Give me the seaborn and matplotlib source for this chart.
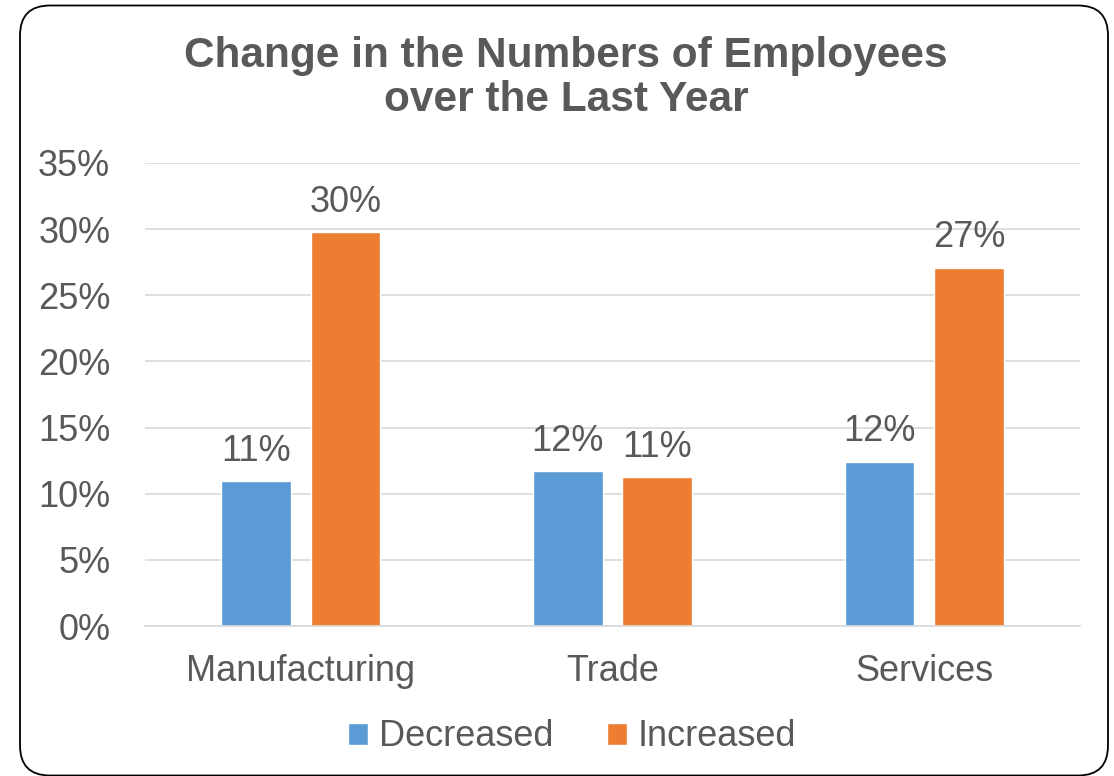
import matplotlib
matplotlib.use("Agg")
import matplotlib.pyplot as plt
from matplotlib.patches import FancyBboxPatch
from matplotlib.ticker import PercentFormatter
import seaborn as sns
import pandas as pd

sectors = ["Manufacturing", "Trade", "Services"]
series = ["Decreased", "Increased"]
decreased = [0.1096, 0.117, 0.124]
increased = [0.2978, 0.1126, 0.271]
y_ticks = [0, 0.05, 0.10, 0.15, 0.20, 0.25, 0.30, 0.35]

title = "Change in the Numbers of Employees\nover the Last Year"
palette = {"Decreased": "#5B9BD5", "Increased": "#ED7D31"}
text_color = "#595959"

df = pd.DataFrame({
    "Sector": sectors * 2,
    "Change": ["Decreased"] * len(sectors) + ["Increased"] * len(sectors),
    "Share": decreased + increased,
})

sns.set_theme(style="white")
plt.rcParams["font.family"] = ["Liberation Sans", "DejaVu Sans"]

fig = plt.figure(figsize=(11.14, 7.76), dpi=100)
ax = fig.add_axes([145 / 1114, 1 - 626 / 776, (1080 - 145) / 1114, (626 - 163) / 776])

sns.barplot(data=df, x="Sector", y="Share", hue="Change", order=sectors,
            hue_order=series, palette=palette, width=0.574, gap=0.22,
            saturation=1, ax=ax, legend=True)

ax.set_xlim(-0.5, 2.5)
ax.set_ylim(0, 0.35)
ax.set_yticks(y_ticks)
ax.yaxis.set_major_formatter(PercentFormatter(1.0, decimals=0))
ax.grid(axis="y", color="#D9D9D9", linewidth=1.2)
ax.set_axisbelow(True)
for s in ["top", "right", "left"]:
    ax.spines[s].set_visible(False)
ax.spines["bottom"].set_color("#D9D9D9")
ax.spines["bottom"].set_linewidth(1.2)
ax.tick_params(axis="y", length=0, pad=25, labelsize=26, labelcolor=text_color)
ax.tick_params(axis="x", length=0, pad=20, labelsize=26, labelcolor=text_color)
ax.set_xlabel("")
ax.set_ylabel("")

for container in ax.containers:
    labels = [f"{round(b.get_height() * 100):d}%" for b in container]
    ax.bar_label(container, labels=labels, padding=9, fontsize=26, color=text_color)

handles, labs = ax.get_legend_handles_labels()
ax.get_legend().remove()
fig.legend(handles, labs, loc="center", bbox_to_anchor=(572 / 1114, 1 - 737 / 776),
           ncol=2, frameon=False, fontsize=26, labelcolor=text_color,
           handlelength=0.55, handleheight=0.55, handletextpad=0.3, columnspacing=1.5)

fig.text(566 / 1114, 1 - 78 / 776, title, ha="center", va="center",
         fontsize=30.5, fontweight="bold", color=text_color, linespacing=1.15)

border = FancyBboxPatch((0.20, 0.005), 10.88, 7.70,
                        boxstyle="round,pad=0,rounding_size=0.3",
                        transform=fig.dpi_scale_trans, fill=False,
                        edgecolor="black", linewidth=1.3)
fig.patches.append(border)

fig.savefig("out.png", dpi=100)
